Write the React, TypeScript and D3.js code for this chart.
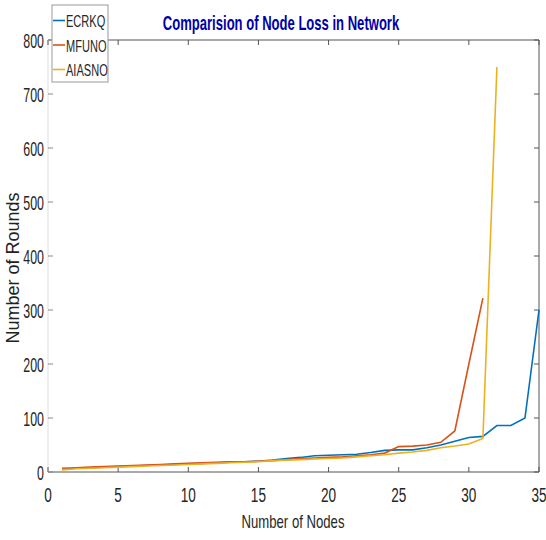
import React from "react";
import * as d3 from "d3";

const nodesE = [1,2,3,4,5,6,7,8,9,10,11,12,13,14,15,16,17,18,19,20,21,22,23,24,25,26,27,28,29,30,31,32,33,34,35];
const ecrkq = [5,7,8,9,10,11,12,13,14,15,16,17,18,19,20,22,25,27,30,31,32,33,36,40,41,41,45,50,57,64,66,86,86,100,300];
const nodesM = [1,2,3,4,5,6,7,8,9,10,11,12,13,14,15,16,17,18,19,20,21,22,23,24,25,26,27,28,29,30,31];
const mfuno = [7,8,9,10,11,12,13,14,15,16,17,18,19,19,20,21,23,25,26,27,28,30,32,35,47,48,50,55,76,200,322];
const nodesA = [1,2,3,4,5,6,7,8,9,10,11,12,13,14,15,16,17,18,19,20,21,22,23,24,25,26,27,28,29,30,31,32];
const aiasno = [4,6,7,8,9,10,11,12,13,14,15,16,17,18,19,21,22,23,24,25,26,28,30,32,35,37,40,45,48,52,62,750];
const seriesNames = ["ECRKQ", "MFUNO", "AIASNO"];
const colors = ["#0072BD", "#D95319", "#EDB120"];
const xTicks = [0,5,10,15,20,25,30,35];
const yTicks = [0,100,200,300,400,500,600,700,800];

const W = 546, H = 540;
const L = 48, R = 539, T = 40, B = 472;
const font = "'Liberation Sans', Arial, sans-serif";

function NText(props: { x: number; y: number; sx: number; size: number; anchor?: string; weight?: string; fill?: string; children: React.ReactNode }) {
  const { x, y, sx, size, anchor = "start", weight = "normal", fill = "#262626", children } = props;
  return (
    <text transform={`translate(${x},${y}) scale(${sx},1)`} textAnchor={anchor as any} fontFamily={font} fontSize={size} fontWeight={weight} fill={fill}>
      {children}
    </text>
  );
}

export default function App() {
  const x = d3.scaleLinear().domain([0, 35]).range([L, R]);
  const y = d3.scaleLinear().domain([0, 800]).range([B, T]);
  const line = d3.line<[number, number]>().x(d => x(d[0])).y(d => y(d[1]));
  const data: [number, number][][] = [
    nodesE.map((n, i) => [n, ecrkq[i]] as [number, number]),
    nodesM.map((n, i) => [n, mfuno[i]] as [number, number]),
    nodesA.map((n, i) => [n, aiasno[i]] as [number, number]),
  ];
  const axisCol = "#555";
  return (
    <svg width={W} height={H} style={{ position: "absolute", left: 0, top: 0 }}>
      <rect x={0} y={0} width={W} height={H} fill="#fff" />
      <line x1={L} x2={R} y1={B} y2={B} stroke={axisCol} />
      <line x1={L} x2={R} y1={T} y2={T} stroke={axisCol} />
      <line x1={R} x2={R} y1={T} y2={B} stroke={axisCol} />
      <line x1={L} x2={L} y1={T} y2={B} stroke="#ddd" />
      {xTicks.map(t => (
        <g key={"x" + t}>
          <line x1={x(t)} x2={x(t)} y1={B} y2={B - 5} stroke={axisCol} />
          <line x1={x(t)} x2={x(t)} y1={T} y2={T + 5} stroke={axisCol} />
          <NText x={x(t)} y={B + 30} sx={0.68} size={20} anchor="middle">{t}</NText>
        </g>
      ))}
      {yTicks.map(t => (
        <g key={"y" + t}>
          <line x1={L} x2={L + 5} y1={y(t)} y2={y(t)} stroke="#888" />
          <line x1={R} x2={R - 5} y1={y(t)} y2={y(t)} stroke={axisCol} />
          <NText x={L - 4} y={y(t) + 8} sx={0.62} size={20} anchor="end">{t}</NText>
        </g>
      ))}
      {data.map((d, i) => (
        <path key={i} d={line(d) || ""} fill="none" stroke={colors[i]} strokeWidth={1.6} />
      ))}
      <NText x={281} y={30} sx={0.67} size={19.5} anchor="middle" weight="bold" fill="#0000A8">Comparision of Node Loss in Network</NText>
      <NText x={293} y={528} sx={0.73} size={18} anchor="middle">Number of Nodes</NText>
      <text transform={`translate(19,268) rotate(-90)`} textAnchor="middle" fontFamily={font} fontSize={18} fill="#222">Number of Rounds</text>
      <rect x={52} y={5} width={56} height={77} fill="#fff" stroke="#999" />
      {seriesNames.map((s, i) => (
        <g key={s}>
          <line x1={53} x2={65} y1={20.5 + i * 24.5} y2={20.5 + i * 24.5} stroke={colors[i]} strokeWidth={1.6} />
          <NText x={66} y={27 + i * 24.5} sx={0.65} size={17}>{s}</NText>
        </g>
      ))}
    </svg>
  );
}
